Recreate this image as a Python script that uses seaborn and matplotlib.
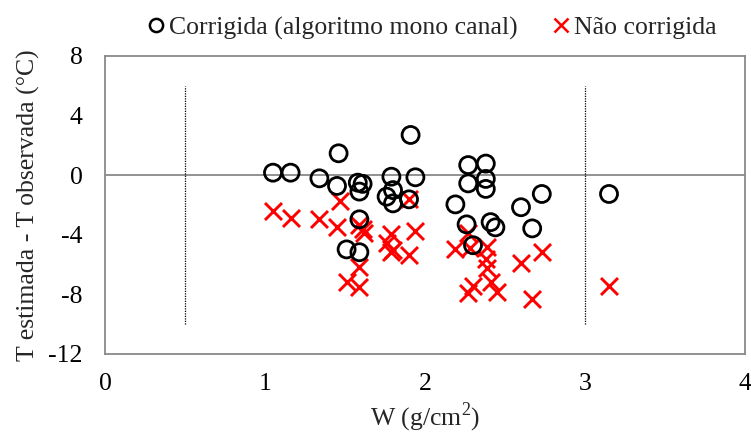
import matplotlib
matplotlib.use("Agg")
import matplotlib.pyplot as plt
import seaborn as sns
import pandas as pd
from matplotlib.lines import Line2D

# Data
w_corr = [1.05, 1.16, 1.34, 1.46, 1.45, 1.58, 1.61, 1.59, 1.79, 1.94, 1.91, 1.80,
          1.76, 1.80, 1.90, 2.19, 2.27, 2.38, 2.27, 2.38, 2.38, 1.59, 1.51, 1.59,
          2.26, 2.30, 2.41, 2.44, 2.60, 2.67, 2.73, 3.15]
dt_corr = [0.17, 0.17, -0.21, 1.47, -0.72, -0.50, -0.58, -1.10, -0.10, -0.14, 2.70, -1.00,
           -1.44, -1.89, -1.62, -1.96, 0.68, 0.78, -0.55, -0.25, -0.92, -2.96, -4.98, -5.17,
           -3.30, -4.70, -3.15, -3.50, -2.15, -3.57, -1.26, -1.26]

w_nc = [1.05, 1.16, 1.34, 1.47, 1.45, 1.59, 1.61, 1.62, 1.59, 1.51, 1.59, 1.79,
        1.76, 1.79, 1.90, 1.94, 1.90, 2.19, 2.27, 2.28, 2.39, 2.38, 2.39, 2.60,
        2.73, 3.15, 2.27, 2.30, 2.41, 2.45, 2.67, 1.80]
dt_nc = [-2.38, -2.90, -2.96, -1.71, -3.45, -3.35, -3.60, -3.85, -6.14, -7.20, -7.48, -3.97,
         -4.57, -5.13, -5.36, -3.75, -1.62, -4.97, -3.85, -4.90, -4.80, -5.60, -6.20, -5.92,
         -5.13, -7.41, -7.93, -7.44, -7.15, -7.82, -8.33, -5.00]

label_corr = "Corrigida (algoritmo mono canal)"
label_nc = "Não corrigida"
x_label = "W (g/cm$^2$)"
y_label = "T estimada - T observada (°C)"
x_ticks = [0, 1, 2, 3, 4]
y_ticks = [-12, -8, -4, 0, 4, 8]
vlines_x = [0.5, 3.0]
vline_range = (-10, 6)

df_corr = pd.DataFrame({"W": w_corr, "dT": dt_corr})
df_nc = pd.DataFrame({"W": w_nc, "dT": dt_nc})

sns.set_style("white")
plt.rcParams["font.family"] = ["Liberation Serif", "DejaVu Serif"]
plt.rcParams["mathtext.fontset"] = "custom"
plt.rcParams["mathtext.rm"] = "Liberation Serif"

fig = plt.figure(figsize=(7.51, 4.36), dpi=100)
ax = fig.add_axes([105/751, 1-354/436, 640/751, 298/436])

gray = "#898989"
ax.axhline(0, color=gray, lw=1.3, zorder=1)
for xv in vlines_x:
    ax.plot([xv, xv], list(vline_range), color="black", lw=0.9,
            linestyle=(0, (1, 1)), zorder=1)

sns.scatterplot(data=df_nc, x="W", y="dT", ax=ax, marker="x", color="#FF0000",
                s=150, linewidth=2.1, zorder=3, legend=False)
sns.scatterplot(data=df_corr, x="W", y="dT", ax=ax, marker="o", facecolors="none",
                edgecolor="black", s=150, linewidth=2.0, zorder=4, legend=False)

ax.set_xlim(0, 4)
ax.set_ylim(-12, 8)
ax.set_xticks(x_ticks)
ax.set_yticks(y_ticks)
ax.set_xticklabels([str(t) for t in x_ticks])
ax.set_yticklabels([str(t) for t in y_ticks])
ax.tick_params(axis="both", direction="out", length=6, width=1.3, color=gray,
               labelsize=18.5, labelcolor="black")
ax.tick_params(axis="y", pad=10)
ax.tick_params(axis="x", pad=8)
for sp in ax.spines.values():
    sp.set_color(gray)
    sp.set_linewidth(1.3)
    sp.set_visible(True)

ax.set_xlabel(x_label, fontsize=18.5, labelpad=4)
ax.set_ylabel(y_label, fontsize=18.5, labelpad=6)

handles = [
    Line2D([], [], marker="o", linestyle="none", markerfacecolor="none",
           markeredgecolor="black", markeredgewidth=1.8, markersize=9.5),
    Line2D([], [], marker="x", linestyle="none", color="#FF0000",
           markeredgewidth=1.8, markersize=9.5),
]
fig.legend(handles, [label_corr, label_nc], loc="center", ncol=2,
           bbox_to_anchor=(0.572, 0.936), frameon=False, fontsize=18.5,
           handletextpad=0.0, columnspacing=1.2, handlelength=1.0,
           borderpad=0)

fig.savefig("out.png", dpi=100)
